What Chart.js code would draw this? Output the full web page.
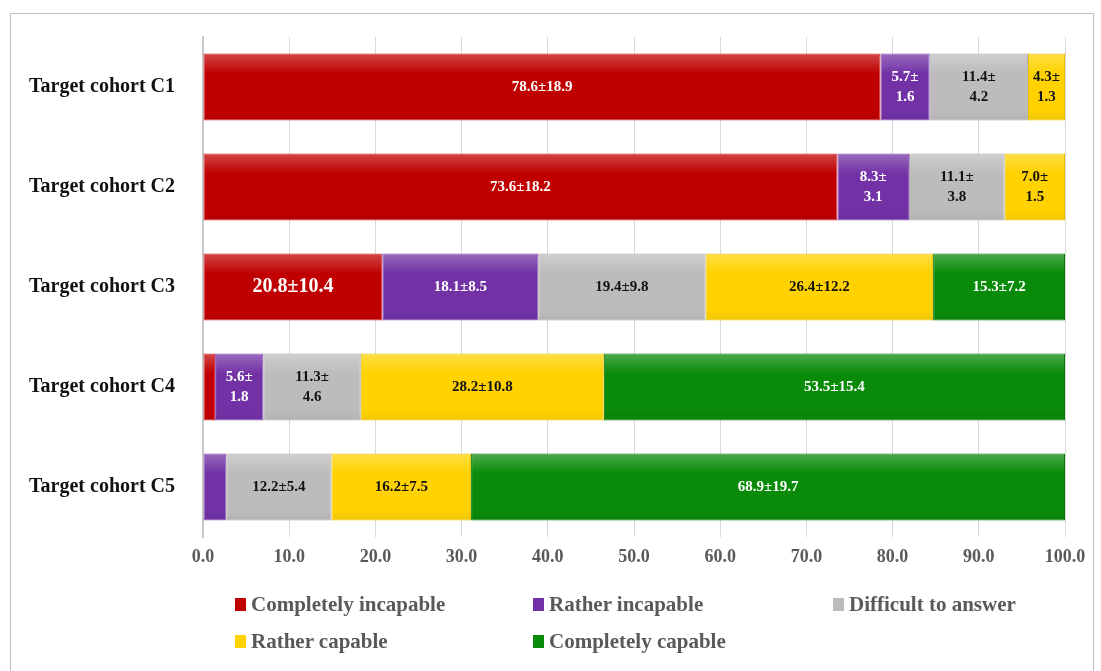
<!DOCTYPE html>
<html>
<head>
<meta charset="utf-8">
<script src="https://cdn.jsdelivr.net/npm/chart.js@4.4.0/dist/chart.umd.min.js"></script>
<style>
  body { margin: 0; background: #fff; }
  #wrap { position: relative; width: 1101px; height: 671px; overflow: hidden; }
  #frame { position: absolute; left: 10px; top: 13px; width: 1084px; height: 680px; border: 1px solid #bfbfbf; box-sizing: border-box; }
  #legend { position: absolute; left: 0; top: 0; width: 1101px; height: 671px; pointer-events: none;
            font-family: "Liberation Serif", serif; font-weight: bold; font-size: 21px; color: #595959; }
  .item { position: absolute; display: flex; align-items: center; }
  .box { width: 11px; height: 13px; margin-right: 5px; }
</style>
</head>
<body>
<div id="wrap">
  <div id="frame"></div>
  <canvas id="cohortBars" width="1101" height="671"></canvas>
  <div id="legend"></div>
</div>
<script>
const categories = ["Target cohort C1", "Target cohort C2", "Target cohort C3", "Target cohort C4", "Target cohort C5"];
const seriesNames = ["Completely incapable", "Rather incapable", "Difficult to answer", "Rather capable", "Completely capable"];

const completelyIncapable = [78.6, 73.6, 20.8, 1.4, 0];
const ratherIncapable = [5.7, 8.3, 18.1, 5.6, 2.7];
const difficultToAnswer = [11.4, 11.1, 19.4, 11.3, 12.2];
const ratherCapable = [4.3, 7.0, 26.4, 28.2, 16.2];
const completelyCapable = [0, 0, 15.3, 53.5, 68.9];

// standard deviations shown after the ± (null = no label drawn)
const sdCompletelyIncapable = [18.9, 18.2, 10.4, null, null];
const sdRatherIncapable = [1.6, 3.1, 8.5, 1.8, null];
const sdDifficultToAnswer = [4.2, 3.8, 9.8, 4.6, 5.4];
const sdRatherCapable = [1.3, 1.5, 12.2, 10.8, 7.5];
const sdCompletelyCapable = [null, null, 7.2, 15.4, 19.7];

const xTicks = [0, 10, 20, 30, 40, 50, 60, 70, 80, 90, 100];

const fills = ["#c00000", "#7232a6", "#bdbbbb", "#ffd200", "#098a09"];
const edges = ["#e03030", "#8f55c0", "#a8a6a6", "#e8c000", "#0a7a0a"];
const textColors = ["#ffffff", "#ffffff", "#111111", "#111111", "#ffffff"];

const values = [completelyIncapable, ratherIncapable, difficultToAnswer, ratherCapable, completelyCapable];
const sds = [sdCompletelyIncapable, sdRatherIncapable, sdDifficultToAnswer, sdRatherCapable, sdCompletelyCapable];

const serif = '"Liberation Serif", serif';

// light top edge on each bar, like the bevelled bars of the original
const barShine = {
  id: "barShine",
  afterDatasetsDraw(chart) {
    const ctx = chart.ctx;
    ctx.save();
    chart.data.datasets.forEach((ds, i) => {
      chart.getDatasetMeta(i).data.forEach((bar, j) => {
        if (!ds.data[j]) return;
        const left = Math.min(bar.x, bar.base), w = Math.abs(bar.x - bar.base);
        const top = bar.y - bar.height / 2, h = bar.height;
        const g = ctx.createLinearGradient(0, top, 0, top + h);
        g.addColorStop(0, "rgba(255,255,255,0.28)");
        g.addColorStop(0.3, "rgba(255,255,255,0)");
        g.addColorStop(0.85, "rgba(0,0,0,0)");
        g.addColorStop(1, "rgba(0,0,0,0.06)");
        ctx.fillStyle = g;
        ctx.fillRect(left + 1, top + 1, w - 2, h - 2);
      });
    });
    ctx.restore();
  }
};

const barLabels = {
  id: "barLabels",
  afterDatasetsDraw(chart) {
    const ctx = chart.ctx;
    ctx.save();
    ctx.textAlign = "center";
    ctx.textBaseline = "middle";
    chart.data.datasets.forEach((ds, i) => {
      const meta = chart.getDatasetMeta(i);
      meta.data.forEach((bar, j) => {
        const sd = sds[i][j];
        if (sd == null || !ds.data[j]) return;
        const big = (i === 0 && j === 2); // the C3 label is set larger in the original
        ctx.font = "bold " + (big ? 20 : 15) + "px " + serif;
        ctx.fillStyle = textColors[i];
        const text = ds.data[j].toFixed(1) + "±" + sd.toFixed(1);
        const left = Math.min(bar.x, bar.base), w = Math.abs(bar.x - bar.base);
        const cx = left + w / 2;
        if (w < 99) {
          ctx.fillText(ds.data[j].toFixed(1) + "±", cx, bar.y - 10);
          ctx.fillText(sd.toFixed(1), cx, bar.y + 10);
        } else {
          ctx.fillText(text, cx, bar.y);
        }
      });
    });
    ctx.restore();
  }
};

new Chart(document.getElementById("cohortBars"), {
  type: "bar",
  data: {
    labels: categories,
    datasets: seriesNames.map((name, i) => ({
      label: name,
      data: values[i],
      backgroundColor: fills[i],
      borderColor: edges[i],
      borderWidth: 1,
      borderSkipped: false,
      barPercentage: 0.67,
      categoryPercentage: 1,
    })),
  },
  options: {
    indexAxis: "y",
    responsive: false,
    animation: false,
    layout: { padding: { left: 0, right: 36, top: 37, bottom: 94 } },
    plugins: { legend: { display: false }, tooltip: { enabled: false } },
    scales: {
      x: {
        stacked: true,
        min: 0,
        max: 100,
        afterBuildTicks: (scale) => { scale.ticks = xTicks.map((v) => ({ value: v })); },
        afterFit: (scale) => { scale.height = 40; },
        grid: { color: "#d9d9d9", lineWidth: 1, drawTicks: false },
        border: { display: false },
        ticks: {
          padding: 10,
          color: "#595959",
          font: { family: serif, weight: "bold", size: 18 },
          callback: (v) => Number(v).toFixed(1),
        },
      },
      y: {
        stacked: true,
        afterFit: (scale) => { scale.width = 203; },
        grid: { display: false },
        border: { display: true, color: "#c8c8c8", width: 2 },
        ticks: {
          padding: 20,
          color: "#111",
          font: { family: serif, weight: "bold", size: 20 },
        },
      },
    },
  },
  plugins: [barShine, barLabels],
});

// legend laid out in the same three columns as the original
const legendPos = [[235, 605], [533, 605], [833, 605], [235, 642], [533, 642]];
const legendEl = document.getElementById("legend");
seriesNames.forEach((name, i) => {
  const item = document.createElement("div");
  item.className = "item";
  item.style.left = legendPos[i][0] + "px";
  item.style.top = (legendPos[i][1] - 13) + "px";
  item.innerHTML = '<span class="box" style="background:' + fills[i] + '"></span>' + name;
  legendEl.appendChild(item);
});
</script>
</body>
</html>
